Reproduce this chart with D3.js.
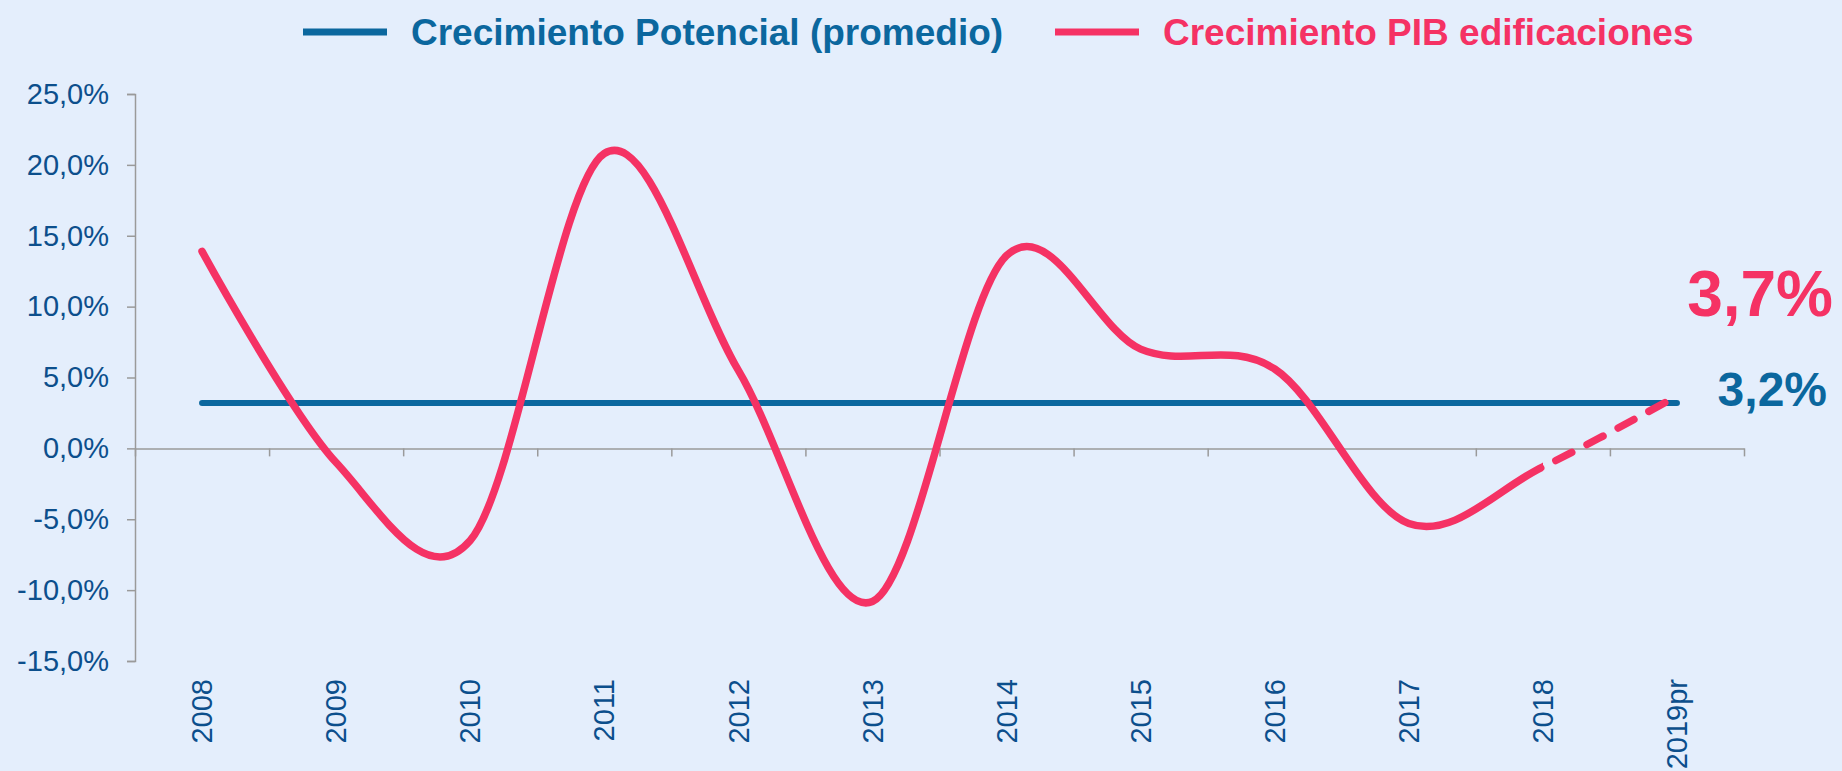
<!DOCTYPE html>
<html>
<head>
<meta charset="utf-8">
<script src="https://cdn.jsdelivr.net/npm/d3@7"></script>
<style>
  html, body { margin: 0; padding: 0; background: #e4eefc; }
  svg { display: block; font-family: Arial, "Liberation Sans", sans-serif; }
</style>
</head>
<body>
<div id="chart"></div>
<script>
const years = ["2008", "2009", "2010", "2011", "2012", "2013", "2014", "2015", "2016", "2017", "2018", "2019pr"]
const pibEdificaciones = [13.9, -1.0, -6.5, 20.8, 5.5, -10.8, 13.6, 7.0, 5.6, -5.3, -1.3, 3.7]
const crecimientoPotencial = [3.2, 3.2, 3.2, 3.2, 3.2, 3.2, 3.2, 3.2, 3.2, 3.2, 3.2, 3.2]
const yTicks = [25, 20, 15, 10, 5, 0, -5, -10, -15]
const seriesNames = ["Crecimiento Potencial (promedio)", "Crecimiento PIB edificaciones"]

const width = 1842
const height = 771
const margin = {top: 94, right: 98, bottom: 110, left: 135}

const blue = "#0b679e"
const labelBlue = "#0c4f8c"
const pink = "#f53264"
const axisGray = "#9a9a9a"

const pct = v => d3.format(".1f")(v).replace(".", ",").replace("−", "-") + "%"

const svg = d3.select("#chart").append("svg")
    .attr("width", width)
    .attr("height", height)
    .attr("viewBox", [0, 0, width, height])

svg.append("rect").attr("width", width).attr("height", height).attr("fill", "#e4eefc")

const x = d3.scaleBand()
    .domain(years)
    .range([margin.left, width - margin.right])
    .padding(0)

const xEdge = d3.scaleLinear()
    .domain([0, years.length])
    .range([margin.left, width - margin.right])

const y = d3.scaleLinear()
    .domain([-15, 25])
    .range([height - margin.bottom, margin.top])

const cx = d => x(d) + x.bandwidth() / 2

// y axis
svg.append("g")
    .attr("transform", `translate(${margin.left},0)`)
    .call(d3.axisLeft(y).tickValues(yTicks).tickSize(8).tickPadding(18).tickFormat(pct))
    .call(g => g.selectAll("path, line").attr("stroke", axisGray).attr("stroke-width", 1.5))
    .call(g => g.selectAll("text")
        .attr("fill", labelBlue)
        .attr("font-size", 29)
        .attr("font-family", "Arial, 'Liberation Sans', sans-serif"))

// x axis line at zero with ticks between categories
svg.append("g")
    .attr("transform", `translate(0,${y(0)})`)
    .call(d3.axisBottom(xEdge).tickValues(d3.range(years.length + 1)).tickSize(8).tickSizeOuter(0).tickFormat(""))
    .call(g => g.selectAll("path, line").attr("stroke", axisGray).attr("stroke-width", 1.5))

// category labels at the bottom of the plot
svg.append("g")
    .attr("transform", `translate(0,${height - margin.bottom})`)
    .call(d3.axisBottom(x).tickSize(0).tickPadding(0))
    .call(g => g.select(".domain").remove())
    .call(g => g.selectAll("text")
        .attr("fill", labelBlue)
        .attr("font-size", 29)
        .attr("font-family", "Arial, 'Liberation Sans', sans-serif")
        .attr("text-anchor", "end")
        .attr("dy", "0.35em")
        .attr("transform", "translate(0,18) rotate(-90)")
        .attr("x", 0)
        .attr("y", 0))

// potential growth line
const potLine = d3.line()
    .x((d, i) => cx(years[i]))
    .y(d => y(d))

svg.append("path")
    .datum(crecimientoPotencial)
    .attr("d", potLine)
    .attr("fill", "none")
    .attr("stroke", blue)
    .attr("stroke-width", 6)
    .attr("stroke-linecap", "round")

// building GDP line, smoothed; solid up to 2018, dashed for 2019pr
const pibLine = d3.line()
    .x((d, i) => cx(years[i]))
    .y(d => y(d))
    .curve(d3.curveCardinal.tension(0))

const cut = cx("2018")
const defs = svg.append("defs")
defs.append("clipPath").attr("id", "clip-solid")
    .append("rect").attr("x", 0).attr("y", 0).attr("width", cut).attr("height", height)
defs.append("clipPath").attr("id", "clip-dash")
    .append("rect").attr("x", cut).attr("y", 0).attr("width", width - cut).attr("height", height)

svg.append("path")
    .datum(pibEdificaciones)
    .attr("d", pibLine)
    .attr("clip-path", "url(#clip-solid)")
    .attr("fill", "none")
    .attr("stroke", pink)
    .attr("stroke-width", 7.5)
    .attr("stroke-linecap", "round")

svg.append("path")
    .datum(pibEdificaciones)
    .attr("d", pibLine)
    .attr("clip-path", "url(#clip-dash)")
    .attr("fill", "none")
    .attr("stroke", pink)
    .attr("stroke-width", 7.5)
    .attr("stroke-linecap", "round")
    .attr("stroke-dasharray", "18,17")

// end value labels
const last = years.length - 1
svg.append("text")
    .attr("x", width - 9)
    .attr("y", y(pibEdificaciones[last]) - 102)
    .attr("text-anchor", "end")
    .attr("dy", "0.35em")
    .attr("font-size", 64)
    .attr("font-weight", "bold")
    .attr("fill", pink)
    .text(pct(pibEdificaciones[last]))

svg.append("text")
    .attr("x", width - 15)
    .attr("y", y(crecimientoPotencial[last]) - 14)
    .attr("text-anchor", "end")
    .attr("dy", "0.35em")
    .attr("font-size", 48)
    .attr("font-weight", "bold")
    .attr("fill", blue)
    .text(pct(crecimientoPotencial[last]))

// legend
const legendItems = [
  {name: seriesNames[0], color: blue, x: 303},
  {name: seriesNames[1], color: pink, x: 1055}
]
const legend = svg.append("g").attr("transform", "translate(0,32)")
legendItems.forEach(d => {
  legend.append("line")
      .attr("x1", d.x).attr("x2", d.x + 84)
      .attr("stroke", d.color)
      .attr("stroke-width", 7)
  legend.append("text")
      .attr("x", d.x + 108)
      .attr("dy", "0.35em")
      .attr("font-size", 37)
      .attr("font-weight", "bold")
      .attr("fill", d.color)
      .text(d.name)
})
</script>
</body>
</html>
